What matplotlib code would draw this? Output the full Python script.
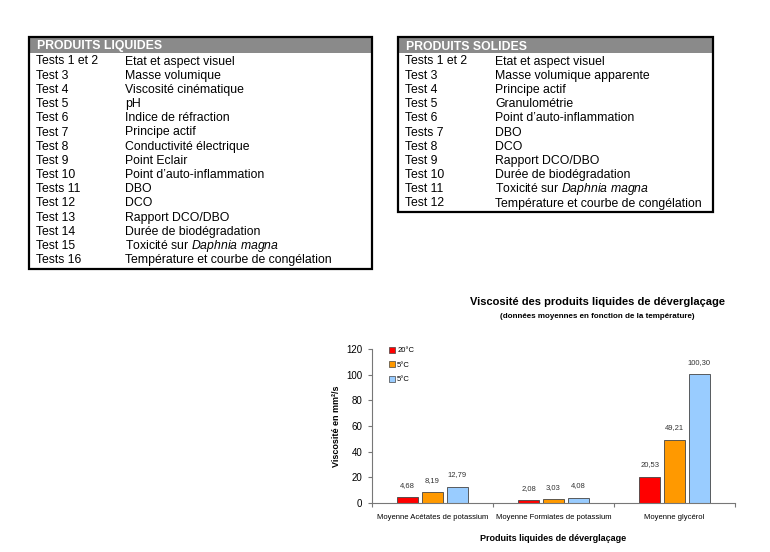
import matplotlib
matplotlib.use("Agg")
import matplotlib.pyplot as plt
from matplotlib.patches import Rectangle, Patch
import numpy as np

plt.rcParams["font.family"] = ["Liberation Sans", "DejaVu Sans"]
plt.rcParams["mathtext.fontset"] = "custom"
plt.rcParams["mathtext.rm"] = "Liberation Sans"
plt.rcParams["mathtext.it"] = "Liberation Sans:italic"

# table contents
liquid_title = "PRODUITS LIQUIDES"
liquid_tests = ["Tests 1 et 2", "Test 3", "Test 4", "Test 5", "Test 6", "Test 7",
                "Test 8", "Test 9", "Test 10", "Tests 11", "Test 12", "Test 13",
                "Test 14", "Test 15", "Tests 16"]
liquid_names = ["Etat et aspect visuel", "Masse volumique", "Viscosité cinématique",
                "pH", "Indice de réfraction", "Principe actif",
                "Conductivité électrique", "Point Eclair", "Point d’auto-inflammation",
                "DBO", "DCO", "Rapport DCO/DBO", "Durée de biodégradation",
                "Toxicité sur $\\it{Daphnia\\ magna}$",
                "Température et courbe de congélation"]

solid_title = "PRODUITS SOLIDES"
solid_tests = ["Tests 1 et 2", "Test 3", "Test 4", "Test 5", "Test 6", "Tests 7",
               "Test 8", "Test 9", "Test 10", "Test 11", "Test 12"]
solid_names = ["Etat et aspect visuel", "Masse volumique apparente", "Principe actif",
               "Granulométrie", "Point d’auto-inflammation", "DBO", "DCO",
               "Rapport DCO/DBO", "Durée de biodégradation",
               "Toxicité sur $\\it{Daphnia\\ magna}$",
               "Température et courbe de congélation"]

# chart data
products = ["Moyenne Acétates de potassium", "Moyenne Formiates de potassium",
            "Moyenne glycérol"]
series_names = ["20°C", "5°C", "5°C"]
visc_20 = [4.68, 2.08, 20.53]
visc_5a = [8.19, 3.03, 49.21]
visc_5b = [12.79, 4.08, 100.30]
series_colors = ["#FF0000", "#FF9900", "#99CCFF"]

fig = plt.figure(figsize=(7.7, 5.52), dpi=100)

# page overlay in pixel coordinates for the two tables
page = fig.add_axes([0, 0, 1, 1])
page.set_xlim(0, 770)
page.set_ylim(552, 0)
page.axis("off")


def draw_table(x0, x1, y0, title, tests, names, col2, step=14.2):
    y1 = y0 + 16 + step * len(tests) + 3
    page.add_patch(Rectangle((x0, y0), x1 - x0, 16, facecolor="#8a8a8a",
                             edgecolor="none"))
    page.add_patch(Rectangle((x0, y0), x1 - x0, y1 - y0, facecolor="none",
                             edgecolor="black", linewidth=1.6))
    page.text(x0 + 8, y0 + 12.5, title, color="white", fontsize=8.8,
              fontweight="bold", va="baseline")
    for i, (t, n) in enumerate(zip(tests, names)):
        y = y0 + 27.5 + i * step
        page.text(x0 + 7, y, t, fontsize=8.8, va="baseline")
        page.text(col2, y, n, fontsize=8.8, va="baseline")


draw_table(29, 372, 37, liquid_title, liquid_tests, liquid_names, 125)
draw_table(398, 713, 37, solid_title, solid_tests, solid_names, 495)

# chart titles
fig.text(597 / 770, 1 - 302 / 552, "Viscosité des produits liquides de déverglaçage",
         ha="center", va="center", fontsize=8, fontweight="bold")
fig.text(597 / 770, 1 - 316 / 552, "(données moyennes en fonction de la température)",
         ha="center", va="center", fontsize=5.8, fontweight="bold")

ax = fig.add_axes([372 / 770, (552 - 503) / 552, 363 / 770, 154 / 552])
x = np.arange(len(products))
width = 0.17
offset = 0.205
all_series = [visc_20, visc_5a, visc_5b]
for i, (vals, col, name) in enumerate(zip(all_series, series_colors, series_names)):
    pos = x + (i - 1) * offset
    bars = ax.bar(pos, vals, width, color=col, edgecolor="#444444",
                  linewidth=0.6, label=name)
    for b, v in zip(bars, vals):
        ax.annotate(f"{v:.2f}".replace(".", ","),
                    (b.get_x() + b.get_width() / 2, v),
                    xytext=(0, 6), textcoords="offset points",
                    ha="center", va="bottom", fontsize=5.5, color="#333333")

ax.set_xlim(-0.5, 2.5)
ax.set_ylim(0, 120)
ax.set_yticks(np.arange(0, 121, 20))
ax.set_xticks([-0.5, 0.5, 1.5, 2.5])
ax.set_xticklabels([])
ax.set_xticks(x, minor=True)
ax.set_xticklabels(products, minor=True, fontsize=5.5)
ax.tick_params(axis="x", which="minor", length=0, pad=8)
ax.tick_params(axis="x", which="major", length=3, color="#777777")
ax.tick_params(axis="y", labelsize=7, length=3, color="#777777", pad=4)
for s in ["top", "right"]:
    ax.spines[s].set_visible(False)
for s in ["left", "bottom"]:
    ax.spines[s].set_color("#777777")
    ax.spines[s].set_linewidth(0.8)

ax.set_ylabel("Viscosité en mm²/s", fontsize=6.5, fontweight="bold", labelpad=4)
ax.set_xlabel("Produits liquides de déverglaçage", fontsize=6.5,
              fontweight="bold", labelpad=9)

handles = [Patch(facecolor=c, edgecolor="#444444", linewidth=0.5)
           for c in series_colors]
fig.legend(handles, series_names, loc="upper left",
           bbox_to_anchor=(385 / 770, 1 - 343 / 552), frameon=False,
           fontsize=5.5, handlelength=0.8, handleheight=0.8,
           handletextpad=0.3, labelspacing=0.9, borderpad=0)

fig.savefig("out.png", dpi=100)
